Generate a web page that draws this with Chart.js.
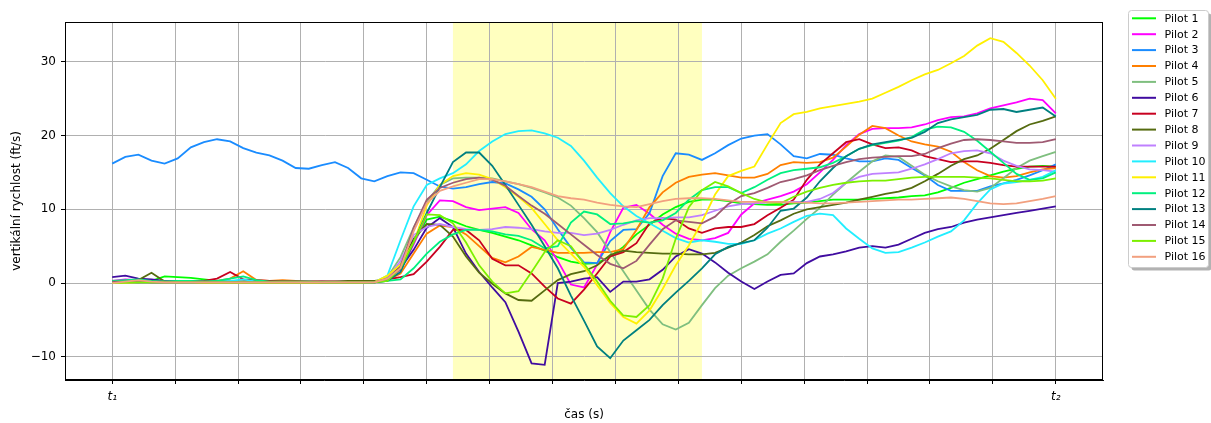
<!DOCTYPE html>
<html>
<head>
<meta charset="utf-8">
<script src="https://cdn.jsdelivr.net/npm/chart.js@4/dist/chart.umd.min.js"></script>
<style>
html,body{margin:0;padding:0;background:#fff;}
#wrap{width:1211px;height:423px;position:relative;}
</style>
</head>
<body>
<div id="wrap"><canvas id="c"></canvas></div>
<script>
// ---- data ----
const pilotNames = ['Pilot 1','Pilot 2','Pilot 3','Pilot 4','Pilot 5','Pilot 6','Pilot 7','Pilot 8','Pilot 9','Pilot 10','Pilot 11','Pilot 12','Pilot 13','Pilot 14','Pilot 15','Pilot 16'];
const xTickLabels = ['t\u2081','t\u2082'];
const yTickValues = [-10,0,10,20,30];
const shadedStart = 26, shadedEnd = 45;

const pilot1 = [0.1,0.2,0.1,0.3,0.9,0.8,0.7,0.5,0.3,0.2,0.2,0.1,0.1,0.1,0.1,0.1,0.1,0.1,0.1,0.1,0.1,0.4,2.0,5.5,8.6,9.0,8.4,7.7,7.2,6.8,6.3,5.8,5.1,4.4,3.5,2.9,2.6,2.7,3.6,4.9,6.6,7.9,9.3,10.3,11.0,11.3,11.3,11.1,10.8,10.7,10.6,10.6,10.8,10.9,11.1,11.3,11.3,11.3,11.4,11.5,11.6,11.8,11.9,12.3,12.9,13.6,14.1,14.6,15.1,15.5,15.8,15.9,15.8];
const pilot2 = [0.3,0.5,0.4,0.3,0.2,0.2,0.2,0.1,0.1,0.1,0.1,0.1,0.1,0.1,0.1,0.1,0.2,0.1,0.1,0.1,0.1,0.6,1.8,5.2,9.2,11.2,11.1,10.3,9.9,10.1,10.3,9.5,7.3,5.8,3.0,-0.2,-0.6,2.5,6.9,10.2,10.6,9.4,7.9,6.7,6.0,5.8,6.1,6.8,9.3,10.8,11.3,11.8,12.4,13.4,15.0,16.7,18.7,20.2,20.9,21.0,21.0,21.1,21.5,22.1,22.5,22.6,23.0,23.7,24.1,24.5,25.0,24.8,23.0];
const pilot3 = [16.2,17.1,17.4,16.6,16.2,16.9,18.4,19.1,19.5,19.2,18.3,17.7,17.3,16.6,15.6,15.5,16.0,16.4,15.6,14.2,13.8,14.5,15.0,14.9,14.0,13.1,12.8,13.0,13.4,13.7,13.5,12.7,11.7,10.0,7.3,4.8,2.8,2.7,5.7,7.2,7.3,9.5,14.5,17.6,17.4,16.7,17.6,18.7,19.6,20.0,20.2,18.8,17.2,16.9,17.5,17.4,16.9,16.5,16.5,16.9,16.7,15.6,14.6,13.3,12.5,12.5,12.5,13.1,13.5,14.0,14.6,15.3,16.1];
const pilot4 = [0.1,0.1,0.2,0.2,0.2,0.2,0.2,0.2,0.3,0.6,1.6,0.4,0.3,0.4,0.3,0.2,0.2,0.2,0.1,0.1,0.1,0.4,1.3,4.0,6.7,7.8,7.6,6.6,5.0,3.4,2.8,3.6,4.9,4.5,4.1,4.1,4.1,4.2,4.2,4.6,7.2,10.3,12.3,13.6,14.4,14.7,14.9,14.6,14.3,14.3,14.8,16.0,16.4,16.3,16.4,17.0,18.5,20.1,21.3,21.0,20.0,19.2,18.8,18.5,17.8,16.4,15.3,14.5,14.3,14.5,15.0,15.4,15.6];
const pilot5 = [0.1,0.1,0.2,0.2,0.1,0.1,0.1,0.1,0.1,0.1,0.1,0.1,0.1,0.1,0.1,0.1,0.1,0.1,0.1,0.1,0.1,0.8,3.5,7.5,11.0,13.3,14.2,14.3,14.3,14.2,13.8,13.4,12.9,12.3,11.6,10.5,8.8,6.9,4.2,1.6,-1.0,-3.6,-5.6,-6.3,-5.4,-3.0,-0.7,1.0,2.0,2.9,3.9,5.6,7.1,8.7,10.2,12.0,13.6,15.1,16.5,17.3,17.1,15.9,14.7,13.8,13.1,12.6,12.4,12.9,14.2,15.6,16.6,17.2,17.8];
const pilot6 = [0.8,1.0,0.6,0.5,0.3,0.3,0.3,0.2,0.2,0.2,0.2,0.2,0.2,0.2,0.2,0.2,0.2,0.2,0.2,0.1,0.1,0.5,2.0,4.5,7.5,8.8,7.6,4.0,1.5,-0.6,-2.6,-6.6,-10.9,-11.1,0.0,0.2,0.6,0.8,-1.2,0.2,0.2,0.5,1.8,3.6,4.6,4.0,2.8,1.4,0.2,-0.8,0.2,1.1,1.3,2.7,3.6,3.9,4.3,4.8,5.0,4.8,5.2,6.0,6.8,7.3,7.6,8.2,8.6,8.9,9.2,9.5,9.8,10.1,10.4];
const pilot7 = [0.3,0.2,0.2,0.3,0.2,0.2,0.2,0.3,0.6,1.5,0.5,0.4,0.3,0.2,0.2,0.2,0.2,0.2,0.2,0.2,0.1,0.5,0.8,1.2,2.9,4.9,7.2,7.2,5.8,3.3,2.4,2.4,1.3,-0.5,-2.1,-2.8,-0.9,1.3,3.6,4.2,5.4,8.1,8.8,8.6,7.4,6.8,7.4,7.6,7.6,8.0,9.2,10.2,11.3,14.0,16.1,17.6,19.1,19.5,18.8,18.3,18.4,18.0,17.2,16.8,16.4,16.5,16.5,16.3,16.0,15.8,15.8,15.8,15.8];
const pilot8 = [0.3,0.3,0.4,1.4,0.2,0.2,0.2,0.2,0.2,0.2,0.2,0.2,0.2,0.2,0.2,0.2,0.2,0.2,0.3,0.3,0.3,0.5,2.5,6.0,8.0,7.9,6.3,3.6,1.4,-0.1,-1.4,-2.3,-2.4,-1.0,0.4,1.2,1.6,2.4,3.8,4.4,4.2,4.1,4.0,4.0,3.9,3.9,4.1,4.8,5.5,6.5,7.7,8.5,9.4,10.0,10.3,10.6,10.9,11.3,11.7,12.1,12.4,12.9,13.8,14.8,15.9,16.8,17.3,18.2,19.4,20.6,21.5,22.0,22.6];
const pilot9 = [0.1,0.1,0.1,0.1,0.1,0.1,0.1,0.1,0.1,0.1,0.1,0.1,0.1,0.1,0.1,0.1,0.1,0.1,0.1,0.1,0.1,0.6,3.0,6.5,7.6,8.0,7.6,7.3,7.2,7.3,7.6,7.5,7.3,7.0,6.8,6.8,6.5,6.7,7.2,7.9,8.5,8.8,8.8,8.9,8.9,9.2,9.8,10.4,10.7,10.8,10.9,10.9,11.0,11.0,11.4,12.2,13.6,14.4,14.8,14.9,15.0,15.5,16.1,16.8,17.6,17.9,18.0,17.6,16.6,15.9,15.4,15.3,15.1];
const pilot10 = [0.2,0.3,0.3,0.2,0.2,0.2,0.2,0.2,0.2,0.3,0.5,0.2,0.1,0.1,0.1,0.1,0.1,0.1,0.0,0.0,0.1,1.0,5.8,10.4,13.3,14.2,14.9,16.1,17.9,19.2,20.2,20.6,20.7,20.3,19.7,18.6,16.6,14.3,12.2,10.4,9.1,8.1,7.1,6.1,5.5,5.8,5.6,5.3,5.3,5.8,6.7,7.4,8.3,9.1,9.4,9.2,7.4,6.0,4.7,4.1,4.2,4.8,5.5,6.3,7.0,8.5,10.8,12.7,13.5,13.7,14.0,14.4,15.3];
const pilot11 = [0.0,0.0,0.1,0.1,0.1,0.1,0.1,0.0,0.0,0.0,0.0,0.0,0.0,0.0,0.0,0.0,0.0,0.0,0.0,0.0,0.1,1.0,2.5,5.5,10.5,13.3,14.5,14.9,14.7,14.1,13.0,11.7,10.2,8.0,5.8,4.0,2.2,-0.3,-2.7,-4.6,-5.5,-3.7,-0.8,2.4,5.1,8.3,12.0,14.5,15.2,15.8,18.8,21.7,22.9,23.2,23.7,24.0,24.3,24.6,25.0,25.8,26.6,27.5,28.3,28.9,29.8,30.8,32.2,33.2,32.7,31.2,29.5,27.5,25.0];
const pilot12 = [0.3,0.4,0.5,0.3,0.2,0.3,0.3,0.2,0.3,0.6,0.9,0.4,0.2,0.2,0.2,0.2,0.1,0.1,0.1,0.1,0.1,0.3,0.5,2.0,4.0,5.6,6.6,7.2,7.2,7.0,6.6,6.4,5.8,4.7,5.0,8.2,9.7,9.3,8.0,8.1,8.4,8.2,8.5,9.5,11.3,12.6,13.0,13.0,12.2,13.0,14.0,14.9,15.3,15.5,15.7,16.3,17.2,18.2,18.7,19.0,19.3,19.8,20.8,21.2,21.1,20.5,19.3,17.8,16.3,14.8,14.0,14.2,15.0];
const pilot13 = [0.1,0.1,0.1,0.1,0.1,0.1,0.1,0.1,0.1,0.1,0.1,0.1,0.1,0.1,0.1,0.1,0.1,0.1,0.1,0.1,0.1,0.3,1.5,5.5,9.5,13.0,16.4,17.7,17.7,15.9,13.3,10.6,7.9,5.0,2.0,-1.7,-5.1,-8.6,-10.2,-7.8,-6.4,-5.0,-3.0,-1.3,0.3,2.0,3.9,4.9,5.4,5.8,7.5,9.8,10.1,11.6,13.8,15.6,17.2,18.2,18.8,19.1,19.4,19.7,20.5,21.7,22.2,22.5,22.8,23.5,23.6,23.2,23.5,23.8,22.6];
const pilot14 = [0.2,0.2,0.2,0.1,0.1,0.1,0.1,0.1,0.1,0.1,0.1,0.1,0.1,0.1,0.1,0.1,0.1,0.1,0.1,0.1,0.1,0.6,2.2,7.5,11.3,12.9,13.6,14.1,14.3,14.0,13.2,11.8,10.5,9.4,8.0,6.6,5.2,3.8,2.6,2.0,3.0,5.2,7.3,8.5,8.3,8.1,9.0,10.7,11.8,12.2,12.9,13.7,14.1,14.6,15.3,15.9,16.4,16.8,17.0,17.1,17.2,17.2,17.5,18.3,18.9,19.4,19.5,19.4,19.2,19.0,19.0,19.1,19.5];
const pilot15 = [0.0,0.1,0.1,0.1,0.1,0.1,0.1,0.1,0.1,0.1,0.1,0.1,0.1,0.1,0.1,0.1,0.1,0.1,0.1,0.1,0.1,0.3,2.0,5.5,9.3,9.2,8.1,5.5,2.4,0.2,-1.4,-1.1,1.5,4.2,5.8,5.0,2.6,0.2,-2.4,-4.4,-4.6,-3.0,0.6,6.0,10.3,12.6,13.7,13.1,12.2,11.4,10.9,10.8,11.7,12.4,12.9,13.3,13.6,13.8,13.9,13.9,14.1,14.3,14.4,14.4,14.4,14.4,14.3,14.2,14.0,13.8,13.8,13.9,14.2];
const pilot16 = [0.0,0.2,0.4,0.2,0.1,0.1,0.1,0.1,0.1,0.1,0.1,0.1,0.1,0.1,0.1,0.1,0.1,0.1,0.1,0.1,0.1,0.6,2.0,7.0,10.8,12.5,13.1,13.6,14.1,14.1,13.8,13.4,13.0,12.4,11.8,11.5,11.3,10.9,10.6,10.4,10.3,10.7,11.1,11.4,11.5,11.5,11.4,11.2,11.0,11.0,11.0,11.0,10.9,10.9,10.8,10.8,10.9,11.0,11.1,11.2,11.3,11.3,11.4,11.5,11.6,11.4,11.1,10.8,10.7,10.8,11.1,11.4,11.8];

const pilotSeries = [pilot1,pilot2,pilot3,pilot4,pilot5,pilot6,pilot7,pilot8,pilot9,pilot10,pilot11,pilot12,pilot13,pilot14,pilot15,pilot16];
const pilotColors = ['#00ff00','#ff00ff','#1a8cff','#ff7f00','#7fbf7f','#400ca0','#c80020','#556b10','#bf80ff','#22eeff','#fff000','#00f07f','#008080','#9f5a72','#7cf000','#f2a07f'];

// ---- chart ----
Chart.defaults.font.family = "'DejaVu Sans', sans-serif";
Chart.defaults.color = '#000';

const lastIndex = pilot1.length - 1;
const span = lastIndex;
const xMin = -0.05 * span, xMax = span * 1.05;
const gridCount = 15;

const datasets = pilotSeries.map((arr, k) => ({
  label: pilotNames[k],
  data: arr.map((v, i) => ({x: i, y: v})),
  borderColor: pilotColors[k],
  backgroundColor: pilotColors[k],
  borderWidth: 1.8,
  pointRadius: 0,
  tension: 0,
  fill: false,
  order: pilotSeries.length - 1 - k
}));

const decorPlugin = {
  id: 'decor',
  beforeDraw(chart) {
    const {ctx, chartArea: a, scales: {x}} = chart;
    ctx.save();
    ctx.fillStyle = '#ffffff';
    ctx.fillRect(0, 0, chart.width, chart.height);
    const x0 = x.getPixelForValue(shadedStart), x1 = x.getPixelForValue(shadedEnd);
    ctx.fillStyle = '#ffffbf';
    ctx.fillRect(x0, a.top, x1 - x0, a.bottom - a.top);
    ctx.restore();
  },
  afterDraw(chart) {
    const {ctx, chartArea: a} = chart;
    ctx.save();
    ctx.strokeStyle = '#000';
    ctx.lineWidth = 1;
    ctx.strokeRect(Math.round(a.left) + 0.5, Math.round(a.top) + 0.5, Math.round(a.right - a.left) - 1, Math.round(a.bottom - a.top) - 1);
    // legend
    const lx = 1128.5, ly = 10.5, lw = 80, lh = 257, r = 3;
    const rr = (x, y, w, h) => {
      ctx.beginPath();
      ctx.moveTo(x + r, y);
      ctx.lineTo(x + w - r, y); ctx.quadraticCurveTo(x + w, y, x + w, y + r);
      ctx.lineTo(x + w, y + h - r); ctx.quadraticCurveTo(x + w, y + h, x + w - r, y + h);
      ctx.lineTo(x + r, y + h); ctx.quadraticCurveTo(x, y + h, x, y + h - r);
      ctx.lineTo(x, y + r); ctx.quadraticCurveTo(x, y, x + r, y);
      ctx.closePath();
    };
    ctx.fillStyle = 'rgba(0,0,0,0.3)';
    rr(lx + 3, ly + 3, lw, lh); ctx.fill();
    ctx.fillStyle = '#fff';
    rr(lx, ly, lw, lh); ctx.fill();
    ctx.strokeStyle = '#cccccc';
    ctx.stroke();
    ctx.font = "11px 'DejaVu Sans'";
    ctx.textBaseline = 'middle';
    ctx.textAlign = 'left';
    pilotNames.forEach((name, k) => {
      const cy = 18.3 + k * 15.9;
      ctx.strokeStyle = pilotColors[k];
      ctx.lineWidth = 2;
      ctx.beginPath();
      ctx.moveTo(1132, cy); ctx.lineTo(1156, cy);
      ctx.stroke();
      ctx.fillStyle = '#000';
      ctx.fillText(name, 1164.5, cy + 0.5);
    });
    ctx.restore();
  }
};

new Chart(document.getElementById('c'), {
  type: 'line',
  data: {datasets},
  options: {
    responsive: true,
    maintainAspectRatio: false,
    devicePixelRatio: 1,
    animation: false,
    layout: {padding: {top: 22, right: 108, bottom: 0, left: 0}},
    plugins: {legend: {display: false}, tooltip: {enabled: false}},
    scales: {
      x: {
        type: 'linear',
        min: xMin, max: xMax,
        bounds: 'data',
        afterBuildTicks: (s) => { s.ticks = Array.from({length: gridCount + 1}, (_, k) => ({value: k * span / gridCount})); },
        afterFit: (s) => { s.height = 43; },
        ticks: {
          autoSkip: false, maxRotation: 0, padding: 6,
          font: {size: 12, style: 'italic'}, color: '#000',
          callback: (v, i, arr) => i === 0 ? xTickLabels[0] : (i === arr.length - 1 ? xTickLabels[1] : '')
        },
        grid: {color: '#b0b0b0', lineWidth: 1, drawTicks: true, tickLength: 4, tickColor: '#000', tickWidth: 1},
        border: {display: true, color: '#000', width: 1},
        title: {display: true, text: 'čas (s)', font: {size: 12}, color: '#000', padding: {top: 0, bottom: 1}}
      },
      y: {
        type: 'linear',
        min: -13.15, max: 35.4,
        bounds: 'data',
        afterBuildTicks: (s) => { s.ticks = yTickValues.map(v => ({value: v})); },
        afterFit: (s) => { s.width = 65; },
        ticks: {
          padding: 5, font: {size: 12}, color: '#000',
          callback: (v) => v < 0 ? '\u2212' + Math.abs(v) : String(v)
        },
        grid: {color: '#b0b0b0', lineWidth: 1, drawTicks: true, tickLength: 4, tickColor: '#000', tickWidth: 1},
        border: {display: true, color: '#000', width: 1},
        title: {display: true, text: 'vertikální rychlost (ft/s)', font: {size: 12}, color: '#000', padding: {top: 10, bottom: 0}}
      }
    }
  },
  plugins: [decorPlugin]
});
</script>
</body>
</html>
